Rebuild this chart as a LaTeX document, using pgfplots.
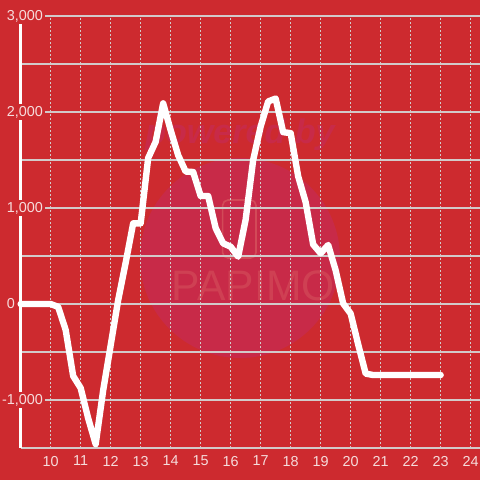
\documentclass[border=0pt]{standalone}
\usepackage{pgfplots}
\pgfplotsset{compat=1.18}
\usepackage{graphicx}
\usepackage{fontspec}
\setmainfont{Liberation Sans}
\definecolor{bgred}{HTML}{CD2A2F}
\definecolor{wmpink}{HTML}{C82A48}
\definecolor{wmlight}{HTML}{D24A58}
\definecolor{gridgray}{HTML}{D2CACA}
\definecolor{labelc}{HTML}{F6DCDC}

\pgfplotstableread{
h v
9.00 0
9.25 0
9.50 0
9.75 0
10.00 0
10.25 -30
10.50 -270
10.75 -750
11.00 -875
11.25 -1190
11.50 -1460
11.75 -900
12.00 -430
12.25 40
12.50 430
12.75 840
13.00 840
13.25 1520
13.50 1690
13.75 2090
14.00 1810
14.25 1550
14.50 1380
14.75 1375
15.00 1125
15.25 1125
15.50 790
15.75 632
16.00 597
16.25 493
16.50 880
16.75 1500
17.00 1850
17.25 2110
17.50 2140
17.75 1790
18.00 1780
18.25 1330
18.50 1060
18.75 620
19.00 528
19.25 615
19.50 350
19.75 5
20.00 -100
20.25 -420
20.50 -725
20.75 -740
21.00 -740
21.25 -740
21.50 -740
21.75 -740
22.00 -740
22.25 -740
22.50 -740
22.75 -740
23.00 -740
}\load

\begin{document}
\begin{tikzpicture}[x=1pt,y=1pt]
\fill[bgred] (0,0) rectangle (360,360);
\useasboundingbox (0,0) rectangle (360,360);
% watermark
\fill[wmpink] (180,166.5) circle (75);
\node[text=wmpink, font=\bfseries\itshape] at (180,258.75) {\resizebox{142pt}{!}{powered by}};
\draw[wmlight, line width=1.2pt, rounded corners=4pt] (167,166.5) rectangle (192,210);
\node[text=wmlight, opacity=0.7] at (190,146) {\resizebox{122pt}{!}{PAPIMO}};

\begin{axis}[
  at={(15.5pt,24pt)}, anchor=south west,
  scale only axis, width=344.5pt, height=324pt,
  xmin=9, xmax=24.311, ymin=-1500, ymax=3000,
  /pgf/number format/assume math mode=true,
  axis lines=left,
  x axis line style={-, draw=gridgray, line width=0.9pt},
  y axis line style={-, draw=white, line width=2.25pt},
  xtick={10,...,24},
  ytick={-1000,1000,2000,3000},
  yticklabels={{-1,000},{1,000},{2,000},{3,000}},
  minor ytick={-1500,-500,500,1500,2500},
  extra y ticks={0}, extra y tick labels={0},
  extra y tick style={
    major grid style={white, line width=2.4pt},
    yticklabel style={xshift=-21pt}},
  major tick length=0pt, minor tick length=0pt,
  xmajorgrids, ymajorgrids, yminorgrids,
  x grid style={gridgray, line width=0.75pt, dash pattern=on 1.5pt off 1.5pt},
  y grid style={gridgray, line width=0.9pt},
  tick label style={font=\fontsize{10.8}{12}\selectfont, text=labelc},
  yticklabel style={anchor=east, xshift=18.1pt, fill=bgred, inner sep=1.2pt},
  xticklabel style={yshift=-2.5pt},
  clip=false,
]
\addplot[white, line width=4.8pt, line join=round, line cap=round] table[x=h, y=v] {\load};
\end{axis}
\end{tikzpicture}
\end{document}
